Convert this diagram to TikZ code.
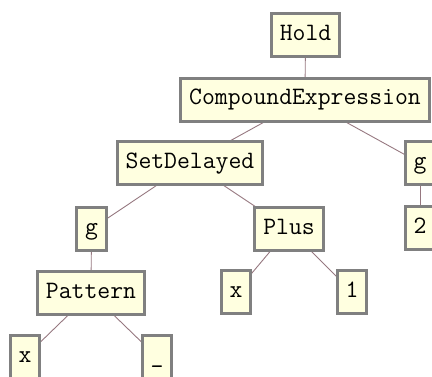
\documentclass[tikz,border=0pt]{standalone}
\usepackage{fontspec}
\definecolor{nodefill}{RGB}{255,255,224}
\definecolor{nodeborder}{RGB}{128,128,128}
\definecolor{edgecol}{RGB}{150,120,128}
\tikzset{
  tnode/.style={draw=nodeborder, line width=3pt, fill=nodefill, rectangle,
    font=\ttfamily\fontsize{25}{30}\selectfont, text height=15pt, text depth=5pt,
    inner xsep=8.5pt, inner ysep=0pt, minimum height=43pt},
  tedge/.style={draw=edgecol, line width=0.9pt}
}
\begin{document}
\begin{tikzpicture}[x=1pt,y=1pt]
\useasboundingbox (0,0) rectangle (432,-376);
\clip (0,0) rectangle (432,-376);
% coordinates of node centres
\coordinate (chold) at (305.5,-35);
\coordinate (cce) at (305,-99.5);
\coordinate (csd) at (190,-163);
\coordinate (cg2) at (420,-163);
\coordinate (cg1) at (91.5,-229);
\coordinate (cplus) at (289,-229);
\coordinate (ctwo) at (420,-228);
\coordinate (cpat) at (91,-293);
\coordinate (cx2) at (236,-292);
\coordinate (cone) at (352,-292);
\coordinate (cx1) at (25,-357);
\coordinate (cus) at (157,-357);
% edges behind the boxes
\draw[tedge] (chold) -- (cce);
\draw[tedge] (cce) -- (csd);
\draw[tedge] (cce) -- (cg2);
\draw[tedge] (csd) -- (cg1);
\draw[tedge] (csd) -- (cplus);
\draw[tedge] (cg2) -- (ctwo);
\draw[tedge] (cg1) -- (cpat);
\draw[tedge] (cplus) -- (cx2);
\draw[tedge] (cplus) -- (cone);
\draw[tedge] (cpat) -- (cx1);
\draw[tedge] (cpat) -- (cus);
% nodes
\node[tnode] (hold) at (chold) {Hold};
\node[tnode] (ce) at (cce) {CompoundExpression};
\node[tnode] (sd) at (csd) {SetDelayed};
\node[tnode] (g2) at (cg2) {g};
\node[tnode] (g1) at (cg1) {g};
\node[tnode] (plus) at (cplus) {Plus};
\node[tnode] (two) at (ctwo) {2};
\node[tnode] (pat) at (cpat) {Pattern};
\node[tnode] (x2) at (cx2) {x};
\node[tnode] (one) at (cone) {1};
\node[tnode] (x1) at (cx1) {x};
\node[tnode] (us) at (cus) {\_};
\end{tikzpicture}
\end{document}
